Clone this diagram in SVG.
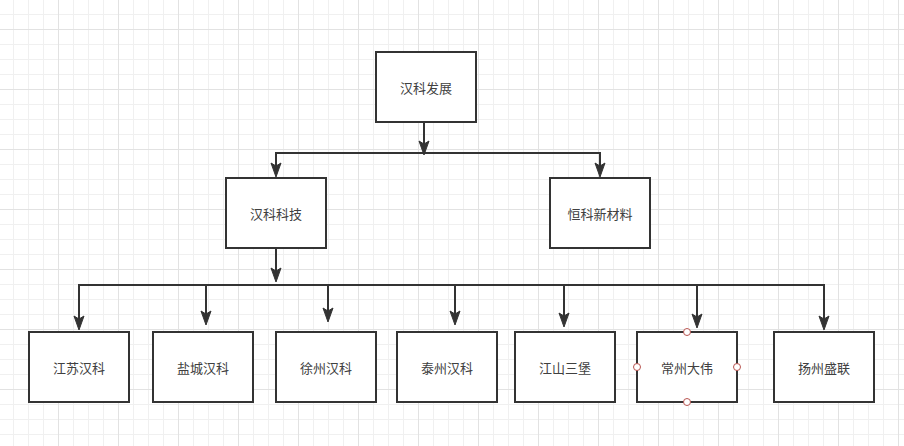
<svg xmlns="http://www.w3.org/2000/svg" width="904" height="446" viewBox="0 0 904 446">
<defs>
<pattern id="minor" patternUnits="userSpaceOnUse" x="13" y="14" width="15" height="15">
<path d="M0.5,0 V15 M0,0.5 H15" fill="none" stroke="#f0f0f0" stroke-width="1"/>
</pattern>
<pattern id="major" patternUnits="userSpaceOnUse" x="58" y="29" width="60" height="60">
<path d="M0.5,0 V60 M0,0.5 H60" fill="none" stroke="#e2e2e2" stroke-width="1"/>
</pattern>
<marker id="arr" markerUnits="userSpaceOnUse" markerWidth="16" markerHeight="12" refX="3" refY="5" orient="auto" overflow="visible">
<path d="M0,0 L14,5 L0,10 L3,5 Z" fill="#333333" stroke="#333333" stroke-width="1" stroke-linejoin="miter"/>
</marker>
<style>
.box{fill:#ffffff;stroke:#333333;stroke-width:2}
.lbl{font-family:"Noto Sans CJK SC","Noto Sans",sans-serif;font-size:13px;fill:#404040;text-anchor:middle;dominant-baseline:central}
.edge{fill:none;stroke:#333333;stroke-width:2;marker-end:url(#arr)}
.pt{fill:#ffffff;stroke:#b85450;stroke-width:1}
</style>
</defs>
<rect width="904" height="446" fill="#ffffff"/>
<rect width="904" height="446" fill="url(#minor)"/>
<rect width="904" height="446" fill="url(#major)"/>

<g id="connectors">
<path class="edge" d="M424,122 V144"/>
<path class="edge" d="M424,153 H276 V166"/>
<path class="edge" d="M424,153 H600 V166"/>
<path class="edge" d="M276,248 V271"/>
<path class="edge" d="M276,285 H79 V319"/>
<path class="edge" d="M276,285 H206 V314"/>
<path class="edge" d="M276,285 H328 V311"/>
<path class="edge" d="M276,285 H455 V314"/>
<path class="edge" d="M276,285 H564 V316"/>
<path class="edge" d="M276,285 H697 V317"/>
<path class="edge" d="M276,285 H824 V319"/>
</g>

<g id="n-hkfz"><rect class="box" x="376" y="52" width="100" height="70"/><text class="lbl" x="426" y="87">汉科发展</text></g>
<g id="n-hkkj"><rect class="box" x="226" y="178" width="100" height="70"/><text class="lbl" x="276" y="213">汉科科技</text></g>
<g id="n-hkxcl"><rect class="box" x="550" y="178" width="100" height="70"/><text class="lbl" x="600" y="213">恒科新材料</text></g>
<g id="n-jshk"><rect class="box" x="29" y="332" width="100" height="70"/><text class="lbl" x="79" y="367">江苏汉科</text></g>
<g id="n-ychk"><rect class="box" x="153" y="332" width="100" height="70"/><text class="lbl" x="203" y="367">盐城汉科</text></g>
<g id="n-xzhk"><rect class="box" x="276" y="332" width="100" height="70"/><text class="lbl" x="326" y="367">徐州汉科</text></g>
<g id="n-tzhk"><rect class="box" x="397" y="332" width="100" height="70"/><text class="lbl" x="447" y="367">泰州汉科</text></g>
<g id="n-jssb"><rect class="box" x="515" y="332" width="100" height="70"/><text class="lbl" x="565" y="367">江山三堡</text></g>
<g id="n-czdw"><rect class="box" x="637" y="332" width="100" height="70"/><text class="lbl" x="687" y="367">常州大伟</text>
<circle class="pt" cx="687" cy="332" r="3.5"/><circle class="pt" cx="637" cy="367" r="3.5"/><circle class="pt" cx="737" cy="367" r="3.5"/><circle class="pt" cx="687" cy="402" r="3.5"/></g>
<g id="n-yzsl"><rect class="box" x="774" y="332" width="100" height="70"/><text class="lbl" x="824" y="367">扬州盛联</text></g>
</svg>
